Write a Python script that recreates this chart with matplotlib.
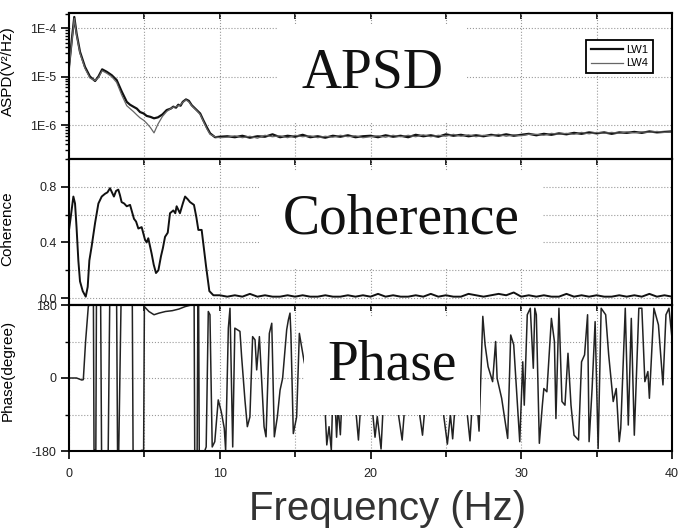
import numpy as np
import matplotlib.pyplot as plt
from matplotlib.ticker import FixedLocator, FuncFormatter, MultipleLocator

plt.rcParams['font.family'] = ['Liberation Sans', 'DejaVu Sans']
plt.rcParams['axes.unicode_minus'] = False

# ---- APSD (log10 of V^2/Hz) ----
psd_freq_low = [0.0, 0.2, 0.35, 0.5, 0.73, 1.06, 1.39, 1.73, 1.95, 2.2,
                2.5, 2.83, 3.16, 3.5, 3.83, 4.05, 4.27, 4.5, 4.71, 4.95,
                5.15, 5.4, 5.64, 5.9, 6.2, 6.48, 6.75, 6.92, 7.1, 7.25,
                7.4, 7.55, 7.76, 7.95, 8.14, 8.47, 8.7, 8.91, 9.15, 9.36,
                9.69, 10.0]
lw1_exp_low = [-4.80, -4.20, -3.77, -4.11, -4.49, -4.80, -5.00, -5.09, -5.00, -4.85,
               -4.90, -4.97, -5.07, -5.31, -5.52, -5.58, -5.62, -5.66, -5.73, -5.76,
               -5.81, -5.83, -5.86, -5.84, -5.78, -5.69, -5.66, -5.62, -5.64, -5.58,
               -5.60, -5.52, -5.47, -5.50, -5.59, -5.69, -5.76, -5.90, -6.05, -6.17,
               -6.25, -6.24]
lw4_exp_low = [-4.85, -4.25, -3.80, -4.14, -4.52, -4.83, -5.03, -5.08, -5.02, -4.88,
               -4.93, -5.00, -5.12, -5.38, -5.60, -5.66, -5.72, -5.79, -5.85, -5.90,
               -5.96, -6.05, -6.16, -5.98, -5.82, -5.72, -5.66, -5.63, -5.62, -5.60,
               -5.58, -5.53, -5.48, -5.52, -5.60, -5.70, -5.78, -5.92, -6.08, -6.19,
               -6.24, -6.26]
# 10.5 .. 40 Hz every 0.5 Hz
lw1_exp_high = [-6.23, -6.25, -6.22, -6.26, -6.23, -6.24, -6.19, -6.25, -6.22, -6.24,
                -6.20, -6.25, -6.23, -6.26, -6.22, -6.24, -6.21, -6.25, -6.23, -6.22,
                -6.25, -6.21, -6.24, -6.22, -6.25, -6.20, -6.23, -6.21, -6.24, -6.19,
                -6.22, -6.20, -6.23, -6.21, -6.23, -6.20, -6.22, -6.19, -6.22, -6.20,
                -6.18, -6.21, -6.18, -6.20, -6.17, -6.19, -6.16, -6.18, -6.15, -6.17,
                -6.15, -6.18, -6.15, -6.16, -6.14, -6.16, -6.13, -6.15, -6.14, -6.13]
lw4_exp_high = [-6.25, -6.22, -6.26, -6.23, -6.27, -6.21, -6.24, -6.22, -6.26, -6.21,
                -6.24, -6.22, -6.26, -6.23, -6.25, -6.21, -6.24, -6.22, -6.26, -6.24,
                -6.22, -6.25, -6.21, -6.24, -6.21, -6.24, -6.20, -6.24, -6.21, -6.23,
                -6.19, -6.23, -6.20, -6.24, -6.21, -6.22, -6.19, -6.23, -6.20, -6.22,
                -6.19, -6.19, -6.21, -6.17, -6.19, -6.17, -6.19, -6.15, -6.18, -6.15,
                -6.17, -6.15, -6.17, -6.14, -6.16, -6.14, -6.15, -6.13, -6.15, -6.14]
high_freq = np.arange(10.5, 40.01, 0.5)

# ---- Coherence ----
coh_freq_low = [0.0, 0.1, 0.29, 0.4, 0.5, 0.62, 0.73, 0.91, 1.11, 1.24,
                1.35, 1.5, 1.73, 1.95, 2.17, 2.39, 2.55, 2.72, 2.85, 2.98,
                3.12, 3.27, 3.38, 3.49, 3.66, 3.83, 4.05, 4.18, 4.31, 4.45,
                4.6, 4.82, 5.04, 5.15, 5.26, 5.48, 5.62, 5.77, 5.93, 6.1,
                6.23, 6.37, 6.55, 6.7, 6.92, 7.05, 7.14, 7.36, 7.55, 7.7,
                7.88, 8.03, 8.29, 8.45, 8.58, 8.8, 9.09, 9.31, 9.58, 10.0]
coh_low = [0.49, 0.57, 0.73, 0.68, 0.51, 0.27, 0.12, 0.05, 0.01, 0.08,
           0.27, 0.37, 0.54, 0.68, 0.73, 0.75, 0.76, 0.79, 0.76, 0.73,
           0.77, 0.78, 0.74, 0.69, 0.68, 0.66, 0.67, 0.62, 0.57, 0.55,
           0.50, 0.51, 0.42, 0.40, 0.43, 0.32, 0.24, 0.18, 0.20, 0.30,
           0.36, 0.44, 0.47, 0.61, 0.63, 0.61, 0.66, 0.61, 0.68, 0.73,
           0.71, 0.69, 0.67, 0.58, 0.49, 0.49, 0.23, 0.05, 0.02, 0.02]
coh_high = [0.01, 0.02, 0.01, 0.03, 0.01, 0.02, 0.01, 0.01, 0.02, 0.01,
            0.02, 0.01, 0.01, 0.02, 0.01, 0.01, 0.02, 0.01, 0.02, 0.01,
            0.03, 0.01, 0.02, 0.01, 0.01, 0.02, 0.01, 0.03, 0.01, 0.02,
            0.01, 0.01, 0.03, 0.02, 0.01, 0.02, 0.03, 0.02, 0.04, 0.01,
            0.02, 0.01, 0.02, 0.01, 0.01, 0.03, 0.01, 0.02, 0.01, 0.02,
            0.01, 0.01, 0.02, 0.01, 0.02, 0.01, 0.03, 0.01, 0.02, 0.01]

# ---- Phase (degree) ----
phase_freq = [0.0, 0.5, 0.7, 0.85, 0.95, 1.1, 1.28, 1.35, 1.62, 1.66,
              1.72, 1.78, 1.82, 2.1, 2.16, 2.6, 2.7, 3.16, 3.22, 3.3,
              3.45, 4.2, 4.25, 4.7, 4.85, 4.95, 5.0, 5.3, 5.64, 5.97,
              6.4, 6.85, 7.29, 7.7, 8.1, 8.3, 8.34, 8.5, 8.55, 8.6,
              8.64, 9.0, 9.1, 9.24, 9.35, 9.5, 9.67, 9.9, 10.1, 10.3,
              10.39, 10.57, 10.68, 10.86, 11.0, 11.34, 11.45, 11.67, 11.83, 12.0,
              12.18, 12.34, 12.45, 12.63, 12.78, 12.94, 13.07, 13.29, 13.45, 13.62,
              13.82, 14.0, 14.17, 14.44, 14.55, 14.66, 14.72, 14.88, 15.1, 15.28,
              15.6, 16.0, 16.3, 16.4, 16.5, 16.9, 17.1, 17.25, 17.4, 17.55,
              17.75, 17.85, 18.0, 18.2, 18.7, 19.2, 19.5, 20.0, 20.3, 20.45,
              20.7, 21.0, 21.5, 22.1, 22.5, 23.0, 23.45, 23.9, 24.5, 25.1,
              25.3, 25.45, 25.8, 26.2, 26.6, 26.9, 27.2, 27.45, 27.6, 27.8,
              28.1, 28.3, 28.4, 28.7, 29.1, 29.3, 29.5, 29.9, 30.1, 30.2,
              30.4, 30.6, 30.8, 30.9, 31.0, 31.2, 31.4, 31.5, 31.7, 32.0,
              32.2, 32.3, 32.5, 32.7, 32.9, 33.1, 33.3, 33.5, 33.8, 34.0,
              34.2, 34.4, 34.5, 34.7, 34.9, 35.1, 35.3, 35.6, 35.8, 36.1,
              36.3, 36.5, 36.6, 36.9, 37.1, 37.3, 37.5, 37.8, 38.0, 38.2,
              38.4, 38.5, 38.8, 39.1, 39.4, 39.6, 39.8, 40.0]
phase_deg = [0, 0, -3, -5, -4, 90, 176, 180, 180, -180,
             -178, -180, 180, 180, -180, -180, 180, 180, -180, -178,
             180, 180, -180, -180, -178, -180, 176, 164, 156, 160,
             164, 166, 170, 176, 180, 180, -180, -180, 180, 180,
             -180, -180, -170, 164, 156, -170, -157, -54, -83, -124,
             -178, 123, 172, -170, 123, 115, 53, -54, -120, -96,
             102, 94, 20, 102, -5, -120, -145, 110, 135, -145,
             -96, -30, -1, 119, 143, 160, 110, -137, -96, 110,
             40, -20, 30, -78, 20, -10, -165, -120, -178, 30,
             -146, -70, -140, 30, 60, -153, 20, -30, -146, -95,
             -175, 50, 0, -153, 40, -20, -141, 50, 10, -163,
             -90, -150, 30, -10, -155, 30, -131, 152, 82, 28,
             -9, 90, -1, -50, -149, 106, 82, -157, 40, -67,
             156, 172, 24, 172, 156, -161, -67, -26, -34, 147,
             90, -100, 172, -58, -67, 61, -67, -141, -153, 40,
             57, 156, -157, -26, 139, -174, 172, 156, 57, -58,
             -26, -157, -124, 172, -116, 147, -141, 172, 172, -9,
             16, -50, 172, 131, -17, 156, 172, 98]

psd_freq = np.concatenate([psd_freq_low, high_freq])
lw1 = 10.0 ** np.concatenate([lw1_exp_low, lw1_exp_high])
lw4 = 10.0 ** np.concatenate([lw4_exp_low, lw4_exp_high])
coh_freq = np.concatenate([coh_freq_low, high_freq])
coh = np.concatenate([coh_low, coh_high])

fig = plt.figure(figsize=(6.79, 5.29), dpi=100)
left, width, height = 69 / 679, 603 / 679, 146 / 529
ax1 = fig.add_axes([left, 1 - 159 / 529, width, height])
ax2 = fig.add_axes([left, 1 - 305 / 529, width, height], sharex=ax1)
ax3 = fig.add_axes([left, 1 - 451 / 529, width, height], sharex=ax1)

grid_kw = dict(color="#9a9a9a", linestyle=":", linewidth=0.8)

ax1.plot(psd_freq, lw1, color="#111111", lw=1.6, label="LW1")
ax1.plot(psd_freq, lw4, color="#666666", lw=0.9, label="LW4")
ax1.set_yscale("log")
ax1.set_ylim(2e-7, 2.05e-4)
ax1.yaxis.set_major_locator(FixedLocator([1e-6, 1e-5, 1e-4]))
ax1.yaxis.set_major_formatter(
    FuncFormatter(lambda v, p: "1E%d" % int(round(np.log10(v)))))
ax1.set_ylabel("ASPD(V²/Hz)", fontsize=11)
ax1.yaxis.set_label_coords(-0.09, 0.6)
ax1.grid(axis="y", which="major", **grid_kw)
leg = ax1.legend(loc="upper right", bbox_to_anchor=(0.977, 0.852), fontsize=8,
                 handlelength=2.9, handletextpad=0.3, borderpad=0.4,
                 labelspacing=0.35, fancybox=False, framealpha=1)
leg.get_frame().set_edgecolor("black")
leg.get_frame().set_linewidth(1.3)

ax2.plot(coh_freq, coh, color="#111111", lw=1.4)
ax2.set_ylim(-0.05, 1.0)
ax2.yaxis.set_major_locator(FixedLocator([0.0, 0.4, 0.8]))
ax2.yaxis.set_minor_locator(FixedLocator([0.2, 0.6]))
ax2.yaxis.set_major_formatter(FuncFormatter(lambda v, p: "%.1f" % v))
ax2.set_ylabel("Coherence", fontsize=11)
ax2.yaxis.set_label_coords(-0.09, 0.52)
ax2.grid(axis="y", which="both", **grid_kw)

ax3.plot(phase_freq, phase_deg, color="#222222", lw=1.1)
ax3.set_ylim(-180, 180)
ax3.yaxis.set_major_locator(FixedLocator([-180, 0, 180]))
ax3.yaxis.set_minor_locator(FixedLocator([-90, 90]))
ax3.set_ylabel("Phase(degree)", fontsize=11)
ax3.yaxis.set_label_coords(-0.09, 0.555)
ax3.grid(axis="y", which="both", **grid_kw)

ax3.set_xlim(0, 40)
ax3.xaxis.set_major_locator(MultipleLocator(10))
ax3.xaxis.set_minor_locator(MultipleLocator(5))

for ax in (ax1, ax2, ax3):
    ax.grid(axis="x", which="both", **grid_kw)
    for s in ax.spines.values():
        s.set_linewidth(1.5)
    ax.tick_params(axis="y", which="major", direction="out", length=6,
                   width=1.2, labelsize=9, pad=3, labelcolor="#222222")
    ax.tick_params(axis="y", which="minor", direction="out", length=3,
                   width=1.0)
    is_bottom = ax is ax3
    ax.tick_params(axis="x", which="both", top=False, bottom=is_bottom,
                   labelbottom=is_bottom, direction="out", width=1.2)
    ax.tick_params(axis="x", which="major", length=6, labelsize=9, pad=6,
                   labelcolor="#222222")
    ax.tick_params(axis="x", which="minor", length=4)
    sec = ax.secondary_xaxis("top")
    sec.set_xticks(np.arange(0, 41, 5))
    sec.tick_params(direction="in", length=4, width=1.2, labeltop=False)
    sec.spines["top"].set_linewidth(1.5)

box = dict(boxstyle="square,pad=0.42", facecolor="white", edgecolor="none")
title_kw = dict(family="Liberation Serif", fontsize=40, ha="center",
                va="baseline", transform=fig.transFigure, bbox=box,
                clip_on=True, zorder=5, color="#111111")
ax1.text(0.548, 1 - 87 / 529, "APSD", **title_kw)
ax2.text(0.5906, 1 - 234 / 529, "Coherence", **title_kw)
ax3.text(0.578, 1 - 380 / 529, "Phase", **title_kw)

fig.text(0.5714, 1 - 520 / 529, "Frequency (Hz)", fontsize=29,
         ha="center", va="baseline", color="#333333")

fig.savefig("out.png", dpi=100)
